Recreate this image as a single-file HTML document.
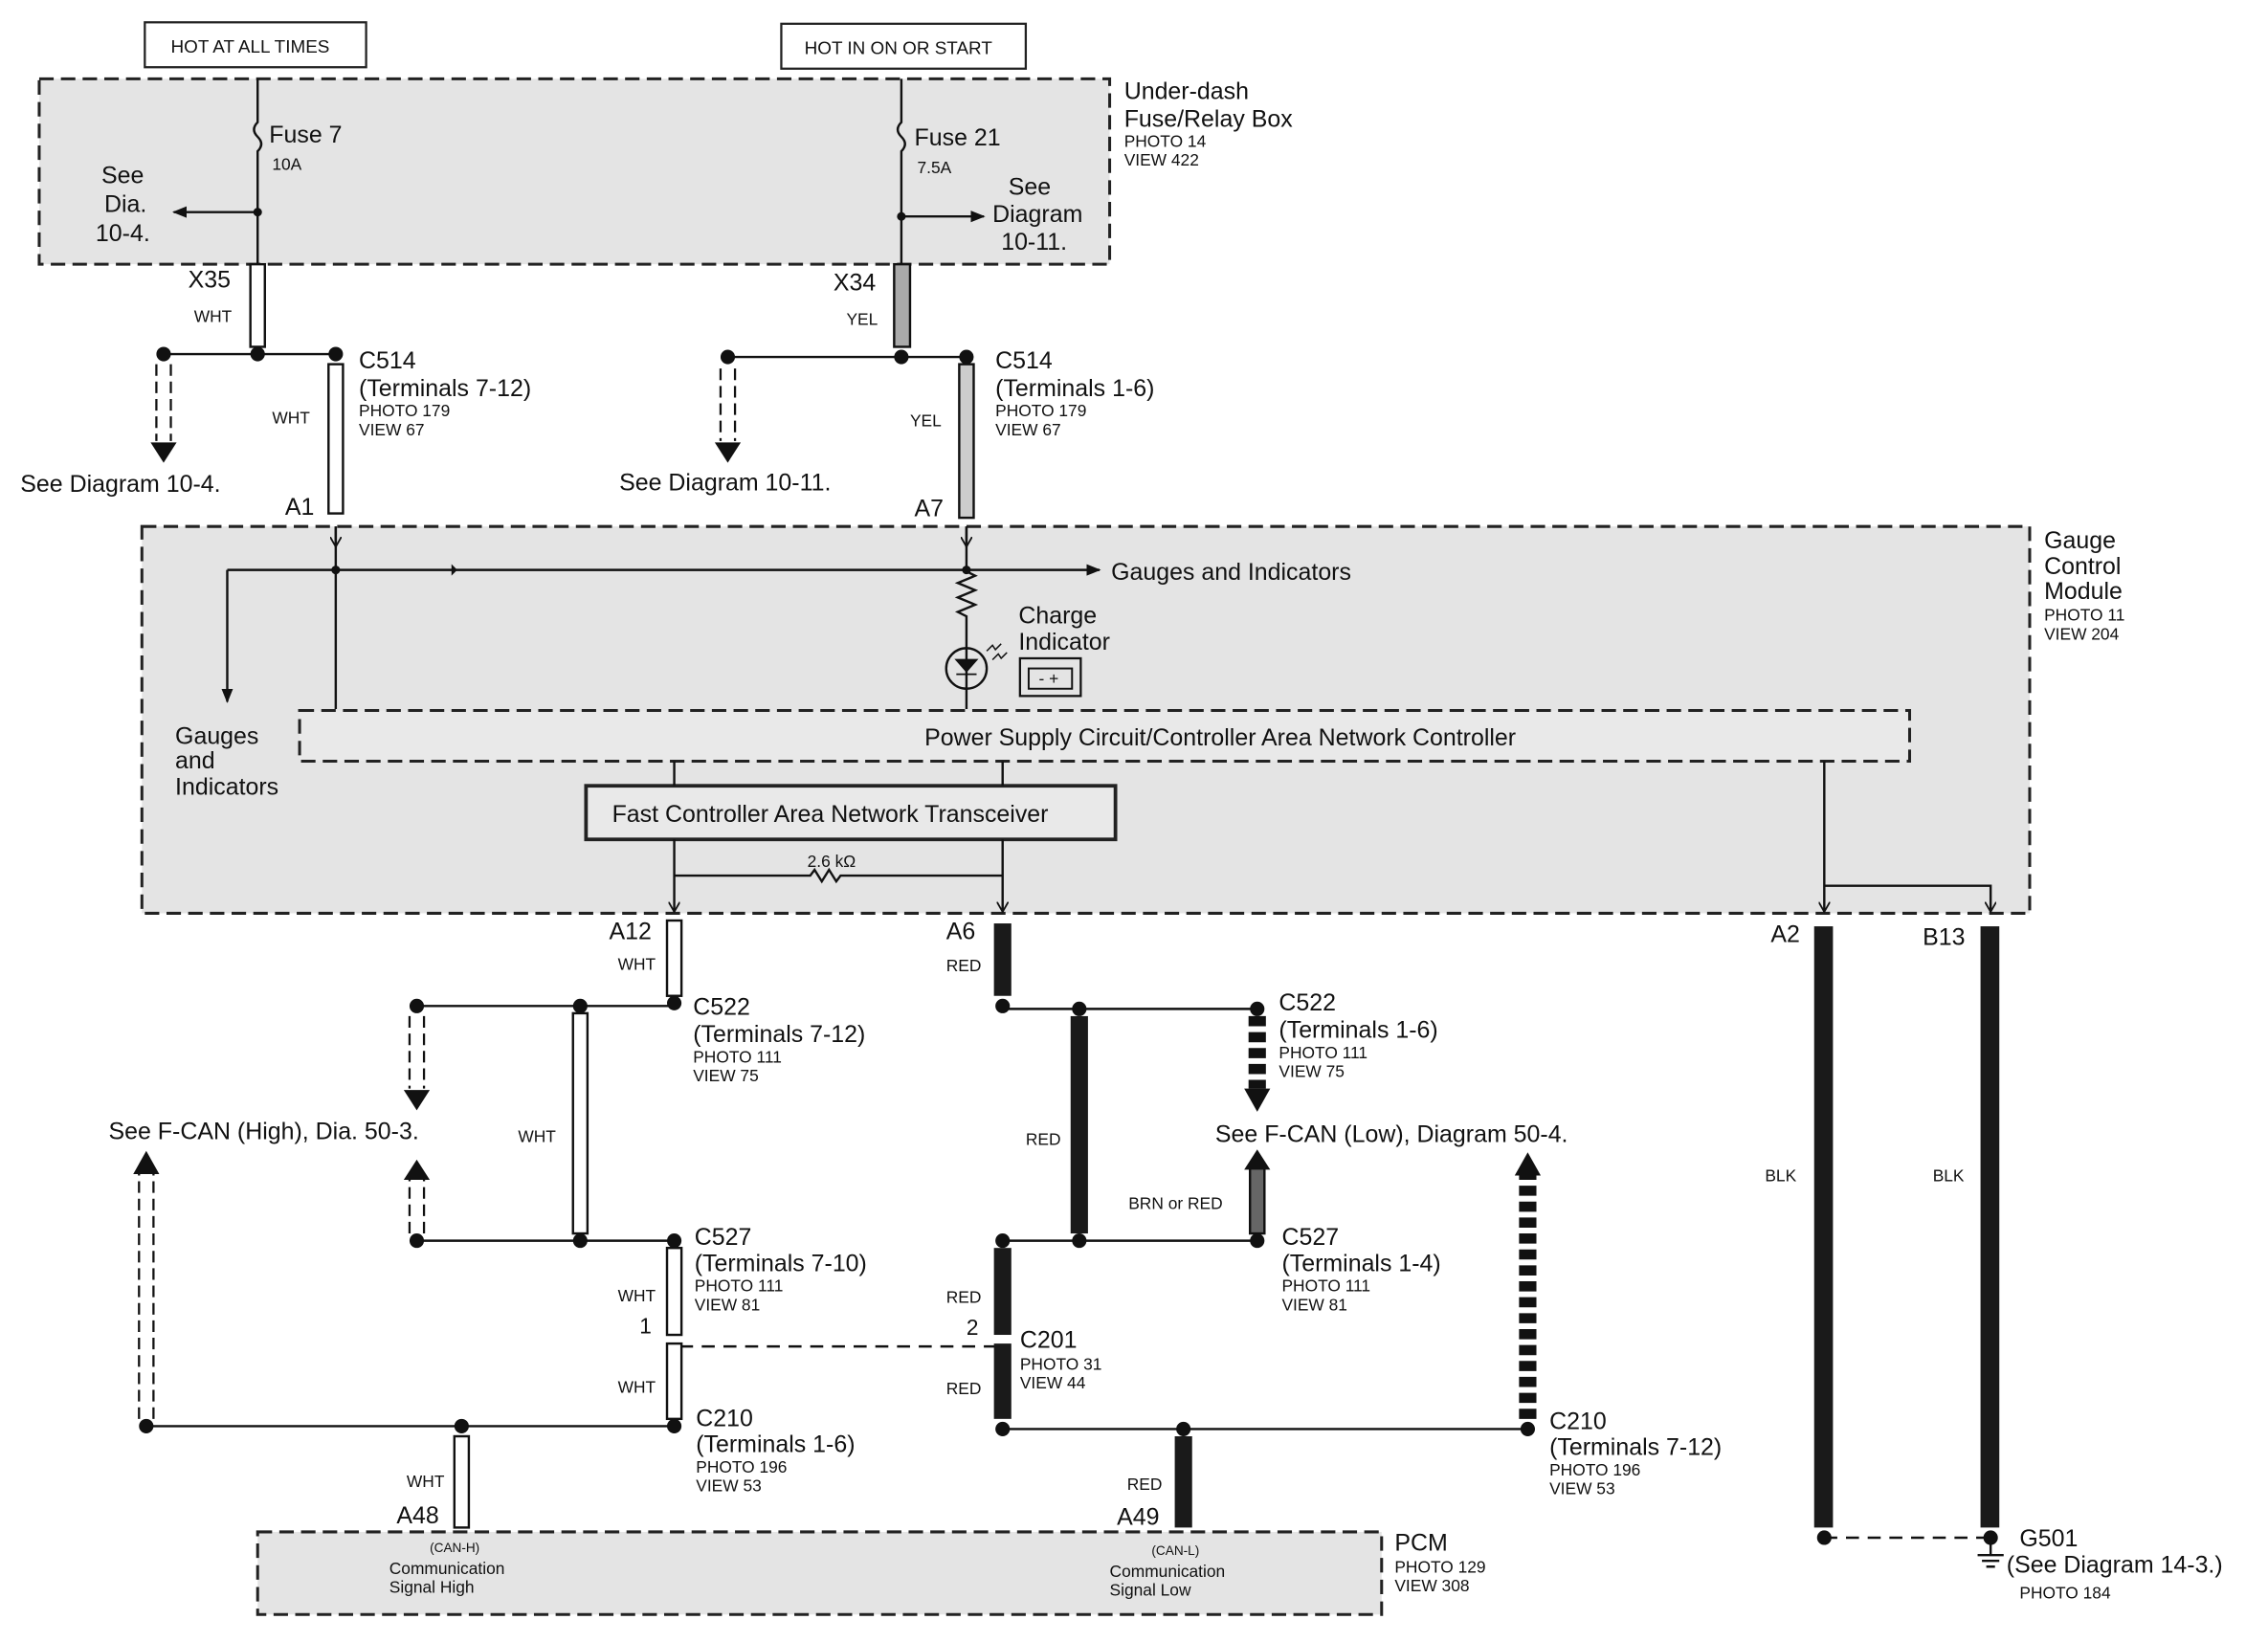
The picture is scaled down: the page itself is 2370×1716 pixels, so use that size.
<!DOCTYPE html>
<html><head><meta charset="utf-8"><style>
html,body{margin:0;padding:0;background:#fff;}
svg{display:block;}
text{font-family:"Liberation Sans",Arial,sans-serif;fill:#111;}
.b{font-size:16.5px}.s{font-size:11.5px}.w{font-size:12.5px}.m{font-size:15px}
</style></head><body>
<svg width="2370" height="1716" viewBox="0 0 1560 1130" preserveAspectRatio="none" xmlns="http://www.w3.org/2000/svg">
<defs>
<marker id="ah" markerWidth="10" markerHeight="10" refX="9" refY="5" orient="auto" markerUnits="userSpaceOnUse"><path d="M0,1 L10,5 L0,9 Z" fill="#111"/></marker>
<marker id="as" markerWidth="8" markerHeight="8" refX="7" refY="4" orient="auto" markerUnits="userSpaceOnUse"><path d="M0,0 L7,4 L0,8" fill="none" stroke="#111" stroke-width="1.2"/></marker>
</defs>
<rect width="1560" height="1130" fill="#fff"/>
<g transform="matrix(0.995 0 0 0.997 0.1 -0.6)">
<g stroke="#222" stroke-width="2" stroke-dasharray="10,5">
<rect x="27" y="55" width="740" height="128" fill="#e4e4e4"/>
<rect x="98" y="364" width="1305" height="267" fill="#e4e4e4"/>
<rect x="178" y="1058" width="777" height="57" fill="#e4e4e4"/>
<rect x="207" y="491" width="1113" height="35" fill="#e9e9e9"/>
</g>
<g fill="#fff" stroke="#222" stroke-width="1.5">
<rect x="100" y="16" width="153" height="31"/>
<rect x="540" y="17" width="169" height="31"/>
<rect x="405" y="543" width="366" height="37" fill="#e9e9e9" stroke-width="2.5"/>
</g>
<text x="118" y="37" class="w">HOT AT ALL TIMES</text>
<text x="556" y="38" class="w">HOT IN ON OR START</text>
<g stroke="#111" stroke-width="1.6" fill="none">
<path d="M178,55 V85 q-5,5 0,10 q5,5 0,10 V183"/>
<path d="M178,147 H120" marker-end="url(#ah)"/>
<path d="M623,55 V85 q-5,5 0,10 q5,5 0,10 V183"/>
<path d="M623,150 H680" marker-end="url(#ah)"/>
<path d="M113,245 H232"/><path d="M503,247 H668"/>
<path d="M232,364 V490"/><path d="M157,394 H760" marker-end="url(#ah)"/>
<path d="M157,394 V485" marker-end="url(#ah)"/>
<path d="M668,364 V395 l6,3 l-12,5 l12,5 l-12,5 l12,5 l-12,5 l6,3 V490"/>
<circle cx="668" cy="462" r="14"/>
<path d="M466,526 V543 M693,526 V543"/>
<path d="M466,580 V630" marker-end="url(#as)"/><path d="M693,580 V630" marker-end="url(#as)"/>
<path d="M466,605 H560 l3,-4 l5,8 l5,-8 l5,8 l3,-4 H693"/>
<path d="M1261,526 V630" marker-end="url(#as)"/><path d="M1261,612 H1376 V630" marker-end="url(#as)"/>
<path d="M232,364 V378" marker-end="url(#as)"/><path d="M668,364 V378" marker-end="url(#as)"/>
<path d="M288,695 H466"/><path d="M288,857 H466"/><path d="M101,985 H466"/>
<path d="M693,697 H869"/><path d="M693,857 H869"/><path d="M693,987 H1056"/>
<path d="M470,930 H688" stroke-dasharray="9,6"/>
<path d="M1261,1062 H1376" stroke-dasharray="9,6"/>
<path d="M1376,1065 V1074 M1367,1074 H1385 M1370,1078 H1382 M1373,1082 H1379"/>
</g>
<path d="M661,456 l7,8 l7,-8 Z M661,466 H675" fill="#111" stroke="#111" stroke-width="1.2"/>
<path d="M682,450 l4,-4 l2,3 l4,-4 M686,456 l4,-4 l2,3 l4,-4" stroke="#111" fill="none" stroke-width="1"/>
<rect x="705" y="455" width="42" height="26" fill="none" stroke="#111" stroke-width="1.5"/>
<rect x="711" y="462" width="30" height="14" fill="none" stroke="#111" stroke-width="1.3"/>
<path d="M316,394 l-4,-4 v8 z" fill="#111"/>
<g fill="#fff" stroke="#111" stroke-width="1.6">
<rect x="173" y="183" width="10" height="57"/>
<rect x="227" y="252" width="10" height="103"/>
<rect x="461" y="636" width="10" height="52"/>
<rect x="396" y="700" width="10" height="152"/>
<rect x="461" y="862" width="10" height="60"/>
<rect x="461" y="928" width="10" height="52"/>
<rect x="314" y="992" width="10" height="63"/>
<rect x="618" y="183" width="11" height="57" fill="#aaa"/>
<rect x="663" y="252" width="10" height="106" fill="#ccc"/>
<rect x="864" y="807" width="10" height="45" fill="#666"/>
</g>
<g fill="#1a1a1a">
<rect x="687" y="638" width="12" height="50"/>
<rect x="740" y="702" width="12" height="150"/>
<rect x="687" y="862" width="12" height="60"/>
<rect x="687" y="928" width="12" height="52"/>
<rect x="812" y="992" width="12" height="63"/>
<rect x="1254" y="640" width="13" height="415"/>
<rect x="1369" y="640" width="13" height="415"/>
</g>
<g fill="none" stroke="#111" stroke-width="1.5" stroke-dasharray="8,4">
<path d="M108,252 V305 M118,252 V305"/>
<path d="M498,255 V305 M508,255 V305"/>
<path d="M283,702 V752 M293,702 V752"/>
<path d="M283,852 V815 M293,852 V815"/>
<path d="M96,980 V810 M106,980 V810"/>
</g>
<g fill="none" stroke="#111" stroke-width="12" stroke-dasharray="7,4">
<path d="M869,702 V752"/><path d="M1056,980 V812"/>
</g>
<g fill="#111">
<path d="M104,306 h18 l-9,14 z"/><path d="M494,306 h18 l-9,14 z"/>
<path d="M279,753 h18 l-9,14 z"/><path d="M279,815 h18 l-9,-14 z"/>
<path d="M92,811 h18 l-9,-16 z"/><path d="M860,752 h18 l-9,16 z"/>
<path d="M860,808 h18 l-9,-14 z"/><path d="M1047,812 h18 l-9,-16 z"/>
</g>
<g fill="#111">
<circle cx="178" cy="147" r="3"/><circle cx="623" cy="150" r="3"/>
<circle cx="113" cy="245" r="5"/><circle cx="178" cy="245" r="5"/><circle cx="232" cy="245" r="5"/>
<circle cx="503" cy="247" r="5"/><circle cx="623" cy="247" r="5"/><circle cx="668" cy="247" r="5"/>
<circle cx="232" cy="394" r="3"/><circle cx="668" cy="394" r="3"/>
<circle cx="288" cy="695" r="5"/><circle cx="401" cy="695" r="5"/><circle cx="466" cy="693" r="5"/>
<circle cx="288" cy="857" r="5"/><circle cx="401" cy="857" r="5"/><circle cx="466" cy="857" r="5"/>
<circle cx="101" cy="985" r="5"/><circle cx="319" cy="985" r="5"/><circle cx="466" cy="985" r="5"/>
<circle cx="693" cy="695" r="5"/><circle cx="746" cy="697" r="5"/><circle cx="869" cy="697" r="5"/>
<circle cx="693" cy="857" r="5"/><circle cx="746" cy="857" r="5"/><circle cx="869" cy="857" r="5"/>
<circle cx="693" cy="987" r="5"/><circle cx="818" cy="987" r="5"/><circle cx="1056" cy="987" r="5"/>
<circle cx="1261" cy="1062" r="5"/><circle cx="1376" cy="1062" r="5"/>
</g>
<text x="186" y="99" class="b">Fuse 7</text><text x="188" y="118" class="s">10A</text>
<text x="70" y="127" class="b">See</text><text x="72" y="147" class="b">Dia.</text><text x="66" y="167" class="b">10-4.</text>
<text x="632" y="101" class="b">Fuse 21</text><text x="634" y="120" class="s">7.5A</text>
<text x="697" y="135" class="b">See</text><text x="686" y="154" class="b">Diagram</text><text x="692" y="173" class="b">10-11.</text>
<text x="777" y="69" class="b">Under-dash</text><text x="777" y="88" class="b">Fuse/Relay Box</text>
<text x="777" y="102" class="s">PHOTO 14</text><text x="777" y="115" class="s">VIEW 422</text>
<text x="130" y="199" class="b">X35</text><text x="134" y="223" class="s">WHT</text>
<text x="576" y="201" class="b">X34</text><text x="585" y="225" class="s">YEL</text>
<text x="248" y="255" class="b">C514</text><text x="248" y="274" class="b">(Terminals 7-12)</text>
<text x="248" y="288" class="s">PHOTO 179</text><text x="248" y="301" class="s">VIEW 67</text>
<text x="688" y="255" class="b">C514</text><text x="688" y="274" class="b">(Terminals 1-6)</text>
<text x="688" y="288" class="s">PHOTO 179</text><text x="688" y="301" class="s">VIEW 67</text>
<text x="188" y="293" class="s">WHT</text><text x="629" y="295" class="s">YEL</text>
<text x="14" y="340" class="b">See  Diagram  10-4.</text>
<text x="428" y="339" class="b">See  Diagram  10-11.</text>
<text x="197" y="356" class="b">A1</text><text x="632" y="357" class="b">A7</text>
<text x="768" y="401" class="b">Gauges and Indicators</text>
<text x="704" y="431" class="b">Charge</text><text x="704" y="449" class="b">Indicator</text>
<text x="718" y="473" class="s">-  +</text>
<text x="121" y="514" class="b">Gauges</text><text x="121" y="531" class="b">and</text><text x="121" y="549" class="b">Indicators</text>
<text x="639" y="515" class="b">Power Supply Circuit/Controller Area Network Controller</text>
<text x="423" y="568" class="b">Fast Controller Area Network Transceiver</text>
<text x="558" y="599" class="s">2.6 kΩ</text>
<text x="1413" y="379" class="b">Gauge</text><text x="1413" y="397" class="b">Control</text><text x="1413" y="414" class="b">Module</text>
<text x="1413" y="429" class="s">PHOTO 11</text><text x="1413" y="442" class="s">VIEW 204</text>
<text x="421" y="649" class="b">A12</text><text x="427" y="670" class="s">WHT</text>
<text x="654" y="649" class="b">A6</text><text x="654" y="671" class="s">RED</text>
<text x="1224" y="651" class="b">A2</text><text x="1329" y="653" class="b">B13</text>
<text x="479" y="701" class="b">C522</text><text x="479" y="720" class="b">(Terminals 7-12)</text>
<text x="479" y="734" class="s">PHOTO 111</text><text x="479" y="747" class="s">VIEW 75</text>
<text x="884" y="698" class="b">C522</text><text x="884" y="717" class="b">(Terminals 1-6)</text>
<text x="884" y="731" class="s">PHOTO 111</text><text x="884" y="744" class="s">VIEW 75</text>
<text x="75" y="787" class="b">See F-CAN (High), Dia.  50-3.</text>
<text x="358" y="789" class="s">WHT</text><text x="709" y="791" class="s">RED</text>
<text x="840" y="789" class="b">See F-CAN (Low),  Diagram  50-4.</text>
<text x="1220" y="816" class="s">BLK</text><text x="1336" y="816" class="s">BLK</text>
<text x="780" y="835" class="s">BRN or RED</text>
<text x="480" y="860" class="b">C527</text><text x="480" y="878" class="b">(Terminals 7-10)</text>
<text x="480" y="892" class="s">PHOTO 111</text><text x="480" y="905" class="s">VIEW 81</text>
<text x="886" y="860" class="b">C527</text><text x="886" y="878" class="b">(Terminals 1-4)</text>
<text x="886" y="892" class="s">PHOTO 111</text><text x="886" y="905" class="s">VIEW 81</text>
<text x="427" y="899" class="s">WHT</text><text x="654" y="900" class="s">RED</text>
<text x="442" y="921" class="m">1</text><text x="668" y="922" class="m">2</text>
<text x="705" y="931" class="b">C201</text><text x="705" y="946" class="s">PHOTO 31</text><text x="705" y="959" class="s">VIEW 44</text>
<text x="427" y="962" class="s">WHT</text><text x="654" y="963" class="s">RED</text>
<text x="481" y="985" class="b">C210</text><text x="481" y="1003" class="b">(Terminals 1-6)</text>
<text x="481" y="1017" class="s">PHOTO 196</text><text x="481" y="1030" class="s">VIEW 53</text>
<text x="1071" y="987" class="b">C210</text><text x="1071" y="1005" class="b">(Terminals 7-12)</text>
<text x="1071" y="1019" class="s">PHOTO 196</text><text x="1071" y="1032" class="s">VIEW 53</text>
<text x="281" y="1027" class="s">WHT</text><text x="779" y="1029" class="s">RED</text>
<text x="274" y="1052" class="b">A48</text><text x="772" y="1053" class="b">A49</text>
<text x="297" y="1072" style="font-size:9px">(CAN-H)</text>
<text x="269" y="1087" class="s">Communication</text><text x="269" y="1100" class="s">Signal High</text>
<text x="796" y="1074" style="font-size:9px">(CAN-L)</text>
<text x="767" y="1089" class="s">Communication</text><text x="767" y="1102" class="s">Signal Low</text>
<text x="964" y="1071" class="b">PCM</text><text x="964" y="1086" class="s">PHOTO 129</text><text x="964" y="1099" class="s">VIEW 308</text>
<text x="1396" y="1068" class="b">G501</text><text x="1387" y="1086" class="b">(See Diagram 14-3.)</text>
<text x="1396" y="1104" class="s">PHOTO 184</text>
</g>
</svg>
</body></html>
